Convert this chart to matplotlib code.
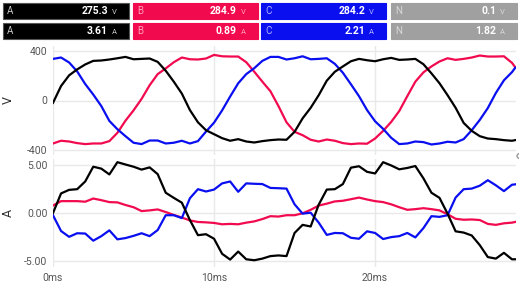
import matplotlib
matplotlib.use("Agg")
import matplotlib.pyplot as plt
from matplotlib.patches import Rectangle, Circle

plt.rcParams['font.family'] = ['Roboto', 'DejaVu Sans']

# Valores de la cabecera (RMS)
fases = ["A", "B", "C", "N"]
tension_rms = ["275.3", "284.9", "284.2", "0.1"]
corriente_rms = ["3.61", "0.89", "2.21", "1.82"]

# Tiempo de muestreo (ms)
t_ms = [0.0, 0.5, 1.0, 1.5, 2.0, 2.5, 3.0, 3.5, 4.0, 4.5,
        5.0, 5.5, 6.0, 6.5, 7.0, 7.5, 8.0, 8.5, 9.0, 9.5,
        10.0, 10.5, 11.0, 11.5, 12.0, 12.5, 13.0, 13.5, 14.0, 14.5,
        15.0, 15.5, 16.0, 16.5, 17.0, 17.5, 18.0, 18.5, 19.0, 19.5,
        20.0, 20.5, 21.0, 21.5, 22.0, 22.5, 23.0, 23.5, 24.0, 24.5,
        25.0, 25.5, 26.0, 26.5, 27.0, 27.5, 28.0, 28.5, 28.7]

# Tensiones (V)
v_a = [-19, 117, 203, 251, 291, 320, 323, 331, 341, 352,
       333, 336, 339, 312, 240, 152, 56, -77, -176, -240,
       -272, -304, -325, -312, -331, -339, -328, -320, -315, -317,
       -253, -144, -59, 43, 160, 232, 275, 317, 336, 325,
       317, 333, 344, 328, 331, 336, 293, 219, 139, 43,
       -59, -181, -245, -288, -307, -312, -320, -325, -320]
v_b = [-347, -325, -331, -344, -352, -347, -347, -328, -261, -163,
       -80, 13, 123, 213, 259, 309, 347, 333, 331, 339,
       368, 357, 355, 355, 309, 232, 152, 75, -45, -176,
       -253, -280, -317, -331, -315, -325, -344, -352, -347, -349,
       -307, -245, -173, -85, 35, 152, 227, 275, 315, 341,
       328, 336, 347, 363, 355, 355, 357, 304, 269]
v_c = [336, 347, 307, 235, 133, 48, -45, -165, -232, -288,
       -341, -352, -323, -323, -347, -341, -325, -347, -328, -251,
       -179, -80, 32, 139, 213, 261, 320, 352, 352, 331,
       341, 357, 333, 336, 341, 296, 224, 131, 35, -77,
       -168, -229, -301, -352, -347, -331, -336, -355, -347, -333,
       -339, -312, -240, -157, -61, 61, 163, 229, 264]

# Corrientes (A)
i_a = [0.00, 2.03, 2.40, 2.47, 3.27, 4.80, 4.60, 4.00, 5.27, 5.03,
       4.80, 4.50, 4.73, 4.03, 2.10, 1.57, 1.07, -0.73, -2.30, -2.20,
       -2.67, -4.23, -4.83, -4.00, -4.80, -4.90, -4.73, -4.47, -4.40, -4.47,
       -2.07, -1.23, -1.40, 0.87, 2.43, 2.47, 3.00, 4.70, 4.85, 4.27,
       4.10, 5.27, 4.93, 4.53, 4.67, 4.87, 3.60, 2.10, 1.57, -0.07,
       -1.90, -2.03, -2.33, -3.33, -4.57, -4.73, -4.13, -4.80, -4.80]
i_b = [0.77, 1.23, 1.23, 1.23, 1.17, 1.50, 1.33, 1.13, 1.10, 0.83,
       0.60, 0.20, 0.27, 0.37, 0.10, -0.20, -0.47, -0.77, -0.93, -0.97,
       -1.03, -1.17, -1.13, -1.17, -1.00, -0.87, -0.63, -0.33, -0.37, -0.23,
       -0.23, -0.03, 0.33, 0.77, 0.97, 1.20, 1.27, 1.43, 1.60, 1.40,
       1.23, 1.13, 0.90, 0.60, 0.33, 0.40, 0.50, 0.40, 0.27, -0.13,
       -0.60, -0.70, -0.67, -0.73, -1.13, -1.23, -1.07, -1.00, -0.93]
i_c = [-0.23, -1.87, -2.47, -2.10, -2.13, -2.87, -2.40, -1.80, -2.73, -2.60,
       -2.37, -2.10, -2.40, -1.77, -0.23, -0.23, -0.53, 1.53, 2.47, 2.23,
       2.43, 3.07, 3.27, 2.20, 3.07, 3.03, 3.00, 2.60, 2.57, 2.53,
       0.90, -0.07, 0.03, -1.00, -2.27, -2.07, -2.10, -2.57, -2.67, -1.90,
       -2.07, -2.70, -2.50, -2.40, -2.07, -2.53, -1.57, -0.33, -0.40, -0.23,
       1.60, 2.47, 2.53, 2.83, 3.40, 2.87, 2.27, 2.93, 2.97]

x_ticks = [0, 10, 20]
x_labels = ["0ms", "10ms", "20ms"]
v_ticks = [-400, 0, 400]
i_ticks = [-5, 0, 5]

W, H = 519, 287
NEGRO, ROJO, AZUL, GRIS = "#000000", "#f20a4f", "#0a0ff0", "#a0a0a0"

fig = plt.figure(figsize=(W / 100, H / 100), dpi=100)


def rect_px(x0, y0, x1, y1):
    # pixeles (origen arriba-izquierda) -> fraccion de figura
    return [x0 / W, 1 - y1 / H, (x1 - x0) / W, (y1 - y0) / H]


# Cabecera con los valores RMS
cajas = [
    (3, 129, NEGRO, "#c8c8c8", "#555555"),
    (133, 258, ROJO, "#ffa0b8", ROJO),
    (261, 386, AZUL, "#b0b4ff", AZUL),
    (391, 517, GRIS, "#d8d8d8", GRIS),
]
filas = [(3, 19, tension_rms, "V"), (23, 39, corriente_rms, "A")]
for y0, y1, valores, unidad in filas:
    for (x0, x1, fondo, col_txt, borde), fase, val in zip(cajas, fases, valores):
        fig.add_artist(Rectangle((x0 / W, 1 - y1 / H), (x1 - x0) / W, (y1 - y0) / H,
                                 transform=fig.transFigure, facecolor=fondo,
                                 edgecolor=borde, linewidth=0.8))
        yc = 1 - (y0 + y1) / 2 / H
        fig.text((x0 + 4) / W, yc, fase, color=col_txt, fontsize=7, va="center", ha="left")
        fig.text((x1 - 21) / W, yc, val, color="white", fontsize=7.5, fontweight="bold",
                 va="center", ha="right")
        fig.text((x1 - 17) / W, yc - 0.003, unidad, color=col_txt, fontsize=5.5,
                 va="center", ha="left")

ax_v = fig.add_axes(rect_px(53, 46, 516, 155))
ax_i = fig.add_axes(rect_px(53, 159, 516, 267))

for ax in (ax_v, ax_i):
    ax.set_xlim(0, 28.75)
    ax.set_xticks(x_ticks)
    ax.grid(True, color="#e9e9e9", linewidth=1)
    ax.set_axisbelow(True)
    for s in ax.spines.values():
        s.set_visible(False)
    ax.tick_params(length=0, labelsize=7.5, labelcolor="#555555", pad=4)

ax_v.plot(t_ms, v_b, color=ROJO, lw=1.6)
ax_v.plot(t_ms, v_c, color=AZUL, lw=1.6)
ax_v.plot(t_ms, v_a, color=NEGRO, lw=1.6)
ax_v.set_ylim(-440, 440)
ax_v.set_yticks(v_ticks)
ax_v.set_yticklabels(["-400", "0", "400"])
ax_v.set_xticklabels([])
ax_v.set_ylabel("V", fontsize=9, color="#333333")

ax_i.plot(t_ms, i_b, color=ROJO, lw=1.6)
ax_i.plot(t_ms, i_c, color=AZUL, lw=1.6)
ax_i.plot(t_ms, i_a, color=NEGRO, lw=1.6)
ax_i.set_ylim(-5.6, 5.6)
ax_i.set_yticks(i_ticks)
ax_i.set_yticklabels(["-5.00", "0.00", "5.00"])
ax_i.set_xticklabels(x_labels)
ax_i.set_ylabel("A", fontsize=9, color="#333333")

for ax in (ax_v, ax_i):
    ax.yaxis.set_label_coords(-0.082, 0.5)

# icono recortado en el borde derecho
fig.add_artist(Circle((523 / W, 1 - 156 / H), 6 / W, transform=fig.transFigure,
                      facecolor="none", edgecolor="#999999", linewidth=1))

fig.savefig("out.png", dpi=100)
plt.close(fig)
